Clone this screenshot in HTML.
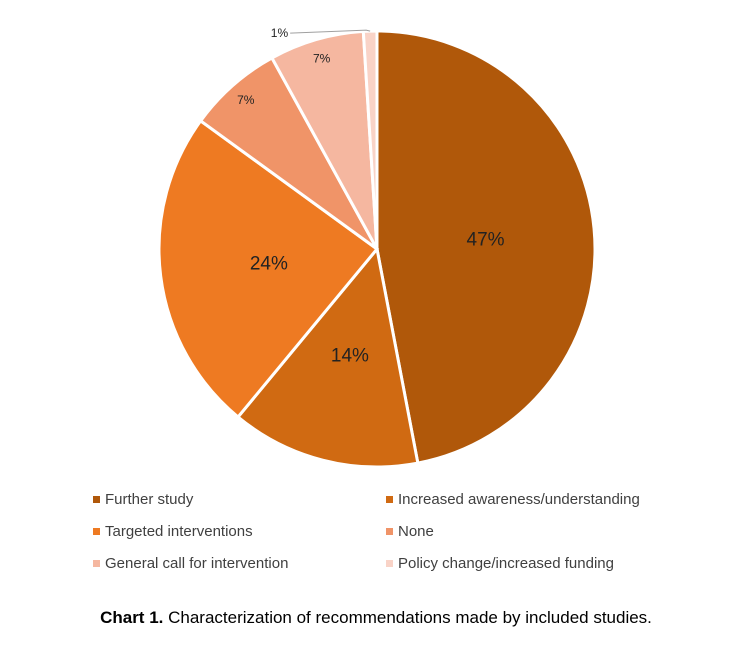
<!DOCTYPE html>
<html><head><meta charset="utf-8"><style>
body{margin:0;background:#fff;width:752px;height:672px;overflow:hidden;font-family:"Liberation Sans",sans-serif}
svg{position:absolute;left:0;top:0}
</style></head><body>
<svg width="752" height="672">
<g id="slices"></g><g id="labels"></g><g id="legend"></g>
<text x="376" y="623" text-anchor="middle" font-size="17" fill="#000"><tspan font-weight="bold">Chart 1.</tspan> Characterization of recommendations made by included studies.</text>
</svg>
<script>
const categories=["Further study","Increased awareness/understanding","Targeted interventions","None","General call for intervention","Policy change/increased funding"];
const values=[47,14,24,7,7,1];
const labels=["47%","14%","24%","7%","7%","1%"];
const colors=["#B0580A","#D06A12","#EE7A22","#F09468","#F5B7A0","#F9D3C7"];
const NS="http://www.w3.org/2000/svg";
const cx=377,cy=249,R=218;
const total=values.reduce((a,b)=>a+b,0);
function pt(a,r){return [cx+r*Math.sin(a),cy-r*Math.cos(a)];}
let acc=0;
const sg=document.getElementById('slices'),lg=document.getElementById('labels'),leg=document.getElementById('legend');
values.forEach((v,i)=>{
 const a0=acc/total*2*Math.PI; acc+=v; const a1=acc/total*2*Math.PI;
 const p0=pt(a0,R),p1=pt(a1,R);
 const path=document.createElementNS(NS,'path');
 path.setAttribute('d',`M${cx},${cy}L${p0[0]},${p0[1]}A${R},${R} 0 ${a1-a0>Math.PI?1:0} 1 ${p1[0]},${p1[1]}Z`);
 path.setAttribute('fill',colors[i]);path.setAttribute('stroke','#fff');path.setAttribute('stroke-width','3');
 
 
 sg.appendChild(path);
 const mid=(a0+a1)/2;
 const t=document.createElementNS(NS,'text');
 const big=v>=10;
 if(v<3){
   const e=pt(mid,R);
   const ln=document.createElementNS(NS,'polyline');
   ln.setAttribute('points',`${e[0]},${e[1]} ${e[0]-4},${e[1]-1} ${e[0]-80},${e[1]+2}`);
   ln.setAttribute('fill','none');ln.setAttribute('stroke','#a0a0a0');ln.setAttribute('stroke-width','1');
   
   
   lg.appendChild(ln);
   t.setAttribute('x',e[0]-82);t.setAttribute('y',e[1]+6);t.setAttribute('text-anchor','end');
 }else{
   const p=pt(mid,big?R*0.5:R*0.91);
   t.setAttribute('x',p[0]);t.setAttribute('y',p[1]+(big?7:4));t.setAttribute('text-anchor','middle');
 }
 t.setAttribute('font-size',big?19:12);t.setAttribute('fill','#222');
 t.textContent=labels[i];
 
 
 lg.appendChild(t);
 const col=i%2,row=Math.floor(i/2);
 const x=col?386:93,y=499+row*32;
 const r=document.createElementNS(NS,'rect');
 r.setAttribute('x',x);r.setAttribute('y',y-3);r.setAttribute('width',7);r.setAttribute('height',7);r.setAttribute('fill',colors[i]);
 
 
 leg.appendChild(r);
 const lt=document.createElementNS(NS,'text');
 lt.setAttribute('x',x+12);lt.setAttribute('y',y+5);lt.setAttribute('font-size',15);lt.setAttribute('fill','#404040');
 lt.textContent=categories[i];
 
 
 leg.appendChild(lt);
});
</script>
</body></html>
